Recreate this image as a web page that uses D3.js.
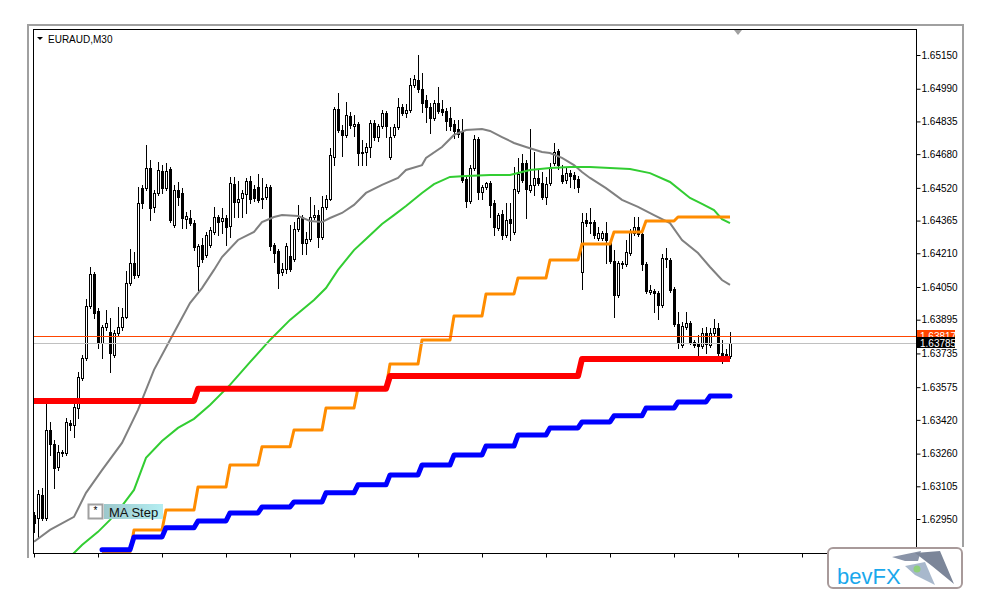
<!DOCTYPE html>
<html><head><meta charset="utf-8">
<script src="https://cdn.jsdelivr.net/npm/d3@7"></script>
<style>
html,body{margin:0;padding:0;background:#fff;}
svg{display:block;font-family:Tahoma,"Liberation Sans",Arial,sans-serif;}
</style></head><body>
<svg id="chart" width="984" height="602"></svg>
<script>
const symbol = "EURAUD,M30";
const indicatorName = "MA Step";
const priceTicks = [1.65150,1.64990,1.64835,1.64680,1.64520,1.64365,1.64210,1.64050,1.63895,1.63735,1.63575,1.63420,1.63260,1.63105,1.62950];
const bidPrice = 1.63785;
const askPrice = 1.63817;
const timeTickIdx = [0,16,32,48,64,80,96,112,128,144,160,176,192,208];

const opens = [1.62969,1.62955,1.63064,1.62955,1.63372,1.63306,1.63197,1.63263,1.63263,1.63405,
1.63396,1.63476,1.63619,1.63713,1.63960,1.64112,1.63936,1.63785,1.63861,1.63837,
1.63727,1.63832,1.63861,1.63908,1.64069,1.64164,1.64107,1.64519,1.64519,1.64614,
1.64430,1.64496,1.64600,1.64519,1.64609,1.64344,1.64510,1.64496,1.64372,1.64377,
1.64353,1.64150,1.64249,1.64202,1.64249,1.64311,1.64382,1.64363,1.64377,1.64339,
1.64538,1.64453,1.64472,1.64491,1.64553,1.64515,1.64524,1.64467,1.64477,1.64524,
1.64249,1.64221,1.64121,1.64136,1.64197,1.64183,1.64325,1.64382,1.64259,1.64278,
1.64382,1.64391,1.64287,1.64430,1.64467,1.64666,1.64894,1.64794,1.64771,1.64861,
1.64813,1.64823,1.64690,1.64690,1.64714,1.64828,1.64761,1.64813,1.64875,1.64666,
1.64771,1.64809,1.64903,1.64875,1.64889,1.65008,1.65032,1.64989,1.64937,1.64903,
1.64851,1.64922,1.64894,1.64884,1.64851,1.64823,1.64799,1.64785,1.64562,1.64458,
1.64614,1.64752,1.64500,1.64524,1.64543,1.64449,1.64330,1.64396,1.64297,1.64372,
1.64311,1.64505,1.64638,1.64638,1.64510,1.64534,1.64567,1.64543,1.64477,1.64543,
1.64638,1.64695,1.64581,1.64557,1.64590,1.64581,1.64562,1.64121,1.64368,1.64358,
1.64358,1.64282,1.64282,1.64306,1.64259,1.64173,1.64012,1.64159,1.64159,1.64211,
1.64306,1.64335,1.64301,1.64159,1.64026,1.64031,1.64022,1.63965,1.64188,1.64178,
1.64041,1.63875,1.63775,1.63861,1.63880,1.63790,1.63780,1.63770,1.63832,1.63775,
1.63832,1.63856,1.63737,1.63732,1.63723];
const highs = [1.62984,1.63088,1.63097,1.63505,1.63410,1.63325,1.63301,1.63277,1.63429,1.63420,
1.63514,1.63647,1.63727,1.63993,1.64145,1.64121,1.63950,1.63870,1.63941,1.63903,
1.63846,1.63955,1.63950,1.64126,1.64230,1.64216,1.64524,1.64534,1.64723,1.64652,
1.64510,1.64643,1.64628,1.64638,1.64619,1.64534,1.64548,1.64519,1.64406,1.64415,
1.64368,1.64254,1.64282,1.64311,1.64335,1.64430,1.64391,1.64425,1.64391,1.64572,
1.64572,1.64553,1.64510,1.64567,1.64576,1.64534,1.64586,1.64567,1.64538,1.64534,
1.64259,1.64230,1.64164,1.64259,1.64344,1.64358,1.64439,1.64391,1.64311,1.64477,
1.64439,1.64415,1.64482,1.64486,1.64709,1.64903,1.64970,1.64818,1.64927,1.64880,
1.64866,1.64832,1.64747,1.64733,1.64842,1.64842,1.64823,1.64889,1.64884,1.64809,
1.64823,1.64946,1.64918,1.64918,1.65041,1.65055,1.65150,1.65065,1.64960,1.64922,
1.64937,1.64998,1.64937,1.64899,1.64903,1.64842,1.64842,1.64847,1.64572,1.64628,
1.64771,1.64761,1.64534,1.64548,1.64553,1.64463,1.64401,1.64415,1.64449,1.64449,
1.64619,1.64662,1.64681,1.64652,1.64799,1.64690,1.64605,1.64595,1.64572,1.64638,
1.64733,1.64704,1.64628,1.64614,1.64605,1.64595,1.64576,1.64401,1.64401,1.64425,
1.64368,1.64335,1.64316,1.64358,1.64278,1.64225,1.64173,1.64173,1.64273,1.64325,
1.64382,1.64382,1.64325,1.64169,1.64060,1.64041,1.64031,1.64206,1.64235,1.64188,
1.64050,1.63932,1.63884,1.63932,1.63889,1.63799,1.63822,1.63856,1.63861,1.63856,
1.63898,1.63880,1.63799,1.63756,1.63837];
const lows = [1.62889,1.62860,1.62946,1.62946,1.63253,1.63097,1.63182,1.63249,1.63253,1.63372,
1.63339,1.63429,1.63609,1.63704,1.63950,1.63903,1.63761,1.63713,1.63846,1.63647,
1.63718,1.63822,1.63846,1.63903,1.64060,1.64093,1.64098,1.64425,1.64510,1.64368,
1.64406,1.64486,1.64496,1.64510,1.64358,1.64335,1.64439,1.64330,1.64330,1.64344,
1.64225,1.64036,1.64169,1.64192,1.64240,1.64301,1.64297,1.64306,1.64249,1.64287,
1.64382,1.64382,1.64382,1.64401,1.64449,1.64458,1.64453,1.64425,1.64467,1.64225,
1.64169,1.64045,1.64107,1.64117,1.64126,1.64173,1.64316,1.64206,1.64206,1.64268,
1.64372,1.64240,1.64278,1.64420,1.64463,1.64628,1.64785,1.64671,1.64761,1.64804,
1.64766,1.64628,1.64628,1.64628,1.64666,1.64747,1.64742,1.64804,1.64761,1.64657,
1.64761,1.64799,1.64866,1.64856,1.64880,1.64998,1.64975,1.64880,1.64832,1.64780,
1.64842,1.64875,1.64866,1.64794,1.64794,1.64756,1.64761,1.64548,1.64430,1.64449,
1.64605,1.64467,1.64467,1.64515,1.64382,1.64297,1.64320,1.64278,1.64287,1.64273,
1.64301,1.64496,1.64548,1.64377,1.64500,1.64486,1.64534,1.64467,1.64444,1.64534,
1.64628,1.64609,1.64543,1.64543,1.64524,1.64519,1.64500,1.64041,1.64339,1.64306,
1.64282,1.64273,1.64273,1.64164,1.64164,1.63908,1.64003,1.64140,1.64150,1.64202,
1.64297,1.64292,1.64131,1.64022,1.64017,1.63932,1.63898,1.63955,1.64145,1.64026,
1.63865,1.63761,1.63766,1.63851,1.63780,1.63766,1.63713,1.63761,1.63737,1.63766,
1.63822,1.63727,1.63690,1.63704,1.63713];
const closes = [1.62932,1.63069,1.62955,1.63372,1.63306,1.63192,1.63268,1.63268,1.63410,1.63396,
1.63481,1.63624,1.63713,1.63960,1.64112,1.63927,1.63785,1.63861,1.63880,1.63737,
1.63832,1.63861,1.63908,1.64069,1.64164,1.64107,1.64449,1.64449,1.64614,1.64425,
1.64496,1.64605,1.64519,1.64600,1.64368,1.64510,1.64477,1.64377,1.64387,1.64353,
1.64240,1.64244,1.64183,1.64297,1.64320,1.64382,1.64358,1.64377,1.64335,1.64543,
1.64453,1.64467,1.64496,1.64553,1.64467,1.64472,1.64463,1.64472,1.64524,1.64244,
1.64211,1.64117,1.64136,1.64244,1.64136,1.64325,1.64377,1.64259,1.64278,1.64382,
1.64391,1.64287,1.64430,1.64467,1.64676,1.64894,1.64794,1.64771,1.64866,1.64818,
1.64823,1.64685,1.64685,1.64714,1.64828,1.64761,1.64813,1.64875,1.64813,1.64761,
1.64809,1.64903,1.64875,1.64889,1.65008,1.65036,1.64989,1.64922,1.64903,1.64851,
1.64922,1.64884,1.64880,1.64837,1.64813,1.64790,1.64775,1.64557,1.64458,1.64614,
1.64752,1.64500,1.64524,1.64543,1.64439,1.64335,1.64391,1.64297,1.64368,1.64353,
1.64515,1.64586,1.64557,1.64515,1.64534,1.64567,1.64543,1.64477,1.64538,1.64619,
1.64690,1.64628,1.64553,1.64590,1.64576,1.64562,1.64524,1.64358,1.64353,1.64353,
1.64297,1.64306,1.64306,1.64273,1.64173,1.64012,1.64164,1.64164,1.64216,1.64311,
1.64335,1.64301,1.64159,1.64031,1.64036,1.64022,1.63965,1.64188,1.64183,1.64036,
1.63875,1.63785,1.63865,1.63880,1.63790,1.63775,1.63770,1.63832,1.63780,1.63832,
1.63856,1.63737,1.63727,1.63727,1.63785];

// grey moving average (read at sample bars)
const greyIdx = [0,4,10,13,17,22,26,30,34,39,42,45,47,51,55,57,60,62,66,69,72,74,77,80,83,87,91,93,97,98,102,105,108,112,114,117,120,123,127,129,132,135,137,139,143,147,151,155,159,162,166,169,172,174];
const greyVal = [1.62842,1.62898,1.62960,1.63074,1.63182,1.63311,1.63467,1.63657,1.63799,1.63974,1.64045,1.64131,1.64192,1.64273,1.64311,1.64358,1.64382,1.64391,1.64387,1.64363,1.64358,1.64377,1.64401,1.64439,1.64496,1.64534,1.64567,1.64605,1.64628,1.64662,1.64714,1.64771,1.64794,1.64799,1.64790,1.64761,1.64733,1.64714,1.64690,1.64685,1.64662,1.64628,1.64595,1.64567,1.64519,1.64463,1.64430,1.64391,1.64353,1.64273,1.64211,1.64145,1.64083,1.64060];
// green moving average
const greenIdx = [9,12,16,19,22,25,28,32,36,40,44,49,54,59,64,70,73,76,80,83,87,90,93,97,100,104,108,114,119,124,129,134,139,149,154,159,164,167,170,172,174];
const greenVal = [1.62770,1.62827,1.62889,1.62946,1.63012,1.63088,1.63240,1.63320,1.63382,1.63425,1.63491,1.63586,1.63694,1.63799,1.63894,1.63988,1.64045,1.64131,1.64225,1.64278,1.64349,1.64391,1.64434,1.64496,1.64538,1.64572,1.64576,1.64581,1.64581,1.64605,1.64614,1.64619,1.64619,1.64609,1.64590,1.64548,1.64472,1.64444,1.64415,1.64372,1.64353];
// MA Step: H4 step lines (start bar of each step)
const stepStarts = [17,25,33,41,49,57,65,73,81,89,97,105,113,121,129,137,145,153,161,169];
const orangeSteps = [1.62794,1.62898,1.62993,1.63102,1.63206,1.63292,1.63372,1.63476,1.63571,1.63685,1.63799,1.63913,1.64017,1.64093,1.64178,1.64254,1.64311,1.64363,1.64382,1.64382];
const blueSteps = [1.62804,1.62865,1.62908,1.62941,1.62979,1.63007,1.63031,1.63074,1.63112,1.63159,1.63206,1.63253,1.63296,1.63348,1.63382,1.63410,1.63439,1.63476,1.63505,1.63533];
// daily step line
const redStarts = [0,41,89,137];
const redSteps = [1.63510,1.63567,1.63628,1.63709];

const svg = d3.select("#chart");
const L = 33, R = 916, T = 29, B = 553;
const lastBar = closes.length - 1;
const x = d3.scaleLinear().domain([0, lastBar]).range([34, 34 + 4 * lastBar]);
const y = d3.scaleLinear().domain([priceTicks[priceTicks.length - 1], priceTicks[0]]).range([519, 55]);

// outer frame
svg.append("path").attr("d", `M28,558 V25 H963 V547`).attr("fill", "none").attr("stroke", "#a0a0a0").attr("stroke-width", 2);

svg.append("defs").append("clipPath").attr("id", "plot")
  .append("rect").attr("x", L).attr("y", T).attr("width", R - L).attr("height", B - T);
const plot = svg.append("g").attr("clip-path", "url(#plot)");

// candles
const bars = d3.range(closes.length);
const cg = plot.append("g").attr("shape-rendering", "crispEdges");
bars.forEach(i => {
  const cx = Math.round(x(i));
  const yh = Math.round(y(highs[i])), yl = Math.round(y(lows[i]));
  cg.append("rect").attr("x", cx).attr("y", yh).attr("width", 1).attr("height", Math.max(1, yl - yh + 1)).attr("fill", "#000");
  const yo = Math.round(y(opens[i])), yc = Math.round(y(closes[i]));
  const top = Math.min(yo, yc), bot = Math.max(yo, yc);
  cg.append("rect").attr("x", cx - 1).attr("y", top).attr("width", 3).attr("height", bot - top + 1).attr("fill", "#000");
  if (closes[i] > opens[i] && bot - top >= 2) {
    cg.append("rect").attr("x", cx).attr("y", top + 1).attr("width", 1).attr("height", bot - top - 1).attr("fill", "#fff");
  }
});

const line = d3.line().x(d => x(d[0])).y(d => y(d[1]));
function stepPoints(starts, vals, endBar) {
  const pts = [];
  starts.forEach((s, k) => {
    const e = k < starts.length - 1 ? starts[k + 1] - 1 : endBar;
    for (let i = s; i <= e; i++) pts.push([i, vals[k]]);
  });
  return pts;
}

plot.append("path").datum(greyIdx.map((d, k) => [d, greyVal[k]]))
  .attr("d", line).attr("fill", "none").attr("stroke", "#808080").attr("stroke-width", 2);
plot.append("path").datum(greenIdx.map((d, k) => [d, greenVal[k]]))
  .attr("d", line).attr("fill", "none").attr("stroke", "#32cd32").attr("stroke-width", 2);
plot.append("path").datum(stepPoints(stepStarts, orangeSteps, lastBar))
  .attr("d", line).attr("fill", "none").attr("stroke", "#ff8c00").attr("stroke-width", 3).attr("stroke-linejoin", "round");
plot.append("path").datum(stepPoints(redStarts, redSteps, lastBar))
  .attr("d", line).attr("fill", "none").attr("stroke", "#ff0000").attr("stroke-width", 6).attr("stroke-linejoin", "round");
plot.append("path").datum(stepPoints(stepStarts, blueSteps, lastBar))
  .attr("d", line).attr("fill", "none").attr("stroke", "#0000ff").attr("stroke-width", 5).attr("stroke-linejoin", "round").attr("stroke-linecap", "round");

// bid / ask lines
plot.append("line").attr("x1", L).attr("x2", R).attr("y1", Math.round(y(bidPrice)) + 0.5).attr("y2", Math.round(y(bidPrice)) + 0.5).attr("stroke", "#c0c0c0");
plot.append("line").attr("x1", L).attr("x2", R).attr("y1", Math.round(y(askPrice)) + 0.5).attr("y2", Math.round(y(askPrice)) + 0.5).attr("stroke", "#ff4500");

// frame
svg.append("rect").attr("x", L + 0.5).attr("y", T + 0.5).attr("width", R - L).attr("height", B - T)
  .attr("fill", "none").attr("stroke", "#000").attr("shape-rendering", "crispEdges");
svg.append("line").attr("x1", R).attr("x2", 827).attr("y1", B + 0.5).attr("y2", B + 0.5).attr("stroke", "#000");

// price axis
const yAxis = d3.axisRight(y).tickValues(priceTicks).tickFormat(d3.format(".5f")).tickSize(4).tickPadding(1);
const ya = svg.append("g").attr("transform", `translate(${R + 0.5},0)`).call(yAxis);
ya.select(".domain").remove();
ya.selectAll("text").attr("font-size", 10).attr("font-family", "Tahoma, 'Liberation Sans', Arial, sans-serif").attr("fill", "#000");

// time axis ticks
const xa = svg.append("g").attr("transform", `translate(0,${B + 0.5})`)
  .call(d3.axisBottom(x).tickValues(timeTickIdx).tickFormat("").tickSize(4));
xa.select(".domain").remove();

// price labels
function priceLabel(p, bg, fg) {
  const yy = Math.round(y(p));
  svg.append("rect").attr("x", R + 1).attr("y", yy - 6).attr("width", 38).attr("height", 11).attr("fill", bg);
  svg.append("text").attr("x", R + 4).attr("y", yy).attr("dy", "0.35em").attr("font-size", 10).attr("fill", fg).text(d3.format(".5f")(p));
}
priceLabel(askPrice, "#ff4500", "#ffffff");
priceLabel(bidPrice, "#000000", "#ffffff");

// title
svg.append("path").attr("d", "M37,37 L43,37 L40,40 Z").attr("fill", "#000");
svg.append("text").attr("x", 48).attr("y", 43).attr("font-size", 10).attr("fill", "#000").text(symbol);

// shift marker
svg.append("path").attr("d", "M734,30 L742,30 L738,35 Z").attr("fill", "#a0a0a0");

// MA Step label
const lg = svg.append("g");
lg.append("rect").attr("x", 88.5).attr("y", 504.5).attr("width", 14).attr("height", 14).attr("fill", "#fff").attr("stroke", "#a0a0a0").attr("stroke-width", 2);
lg.append("text").attr("x", 95.5).attr("y", 514).attr("text-anchor", "middle").attr("font-size", 10).text("*");
const grad = svg.select("defs").append("linearGradient").attr("id", "lbl").attr("x1", 0).attr("x2", 1);
grad.append("stop").attr("offset", "0").attr("stop-color", "#9cc8cc");
grad.append("stop").attr("offset", "1").attr("stop-color", "#b4eef2");
lg.append("rect").attr("x", 104).attr("y", 504).attr("width", 59).attr("height", 15).attr("fill", "url(#lbl)");
lg.append("text").attr("x", 109).attr("y", 517).attr("font-size", 13).attr("font-family", "'Liberation Sans', Arial, sans-serif").attr("fill", "#111").text(indicatorName);

// bevFX logo
const logo = svg.append("g");
logo.append("rect").attr("x", 828).attr("y", 548).attr("width", 134).attr("height", 40).attr("rx", 5)
  .attr("fill", "#fff").attr("stroke", "#a89a9a").attr("stroke-width", 2);
logo.append("text").attr("x", 837).attr("y", 584).attr("font-size", 22).attr("font-family", "'Liberation Sans', Arial, sans-serif").attr("fill", "#1aa8ec").text("bevFX");
logo.append("path").attr("d", "M892,557 L921,551 L918,561 L905,561 Z").attr("fill", "#8a94a8");
logo.append("path").attr("d", "M915,553 L940,551 L954,584 L932,566 Z").attr("fill", "#7c8699");
logo.append("path").attr("d", "M905,566 L925,562 L935,585 L915,575 Z").attr("fill", "#a8b8cc");
logo.append("circle").attr("cx", 917).attr("cy", 569).attr("r", 3.5).attr("fill", "#8fd07a");
</script>
</body></html>
